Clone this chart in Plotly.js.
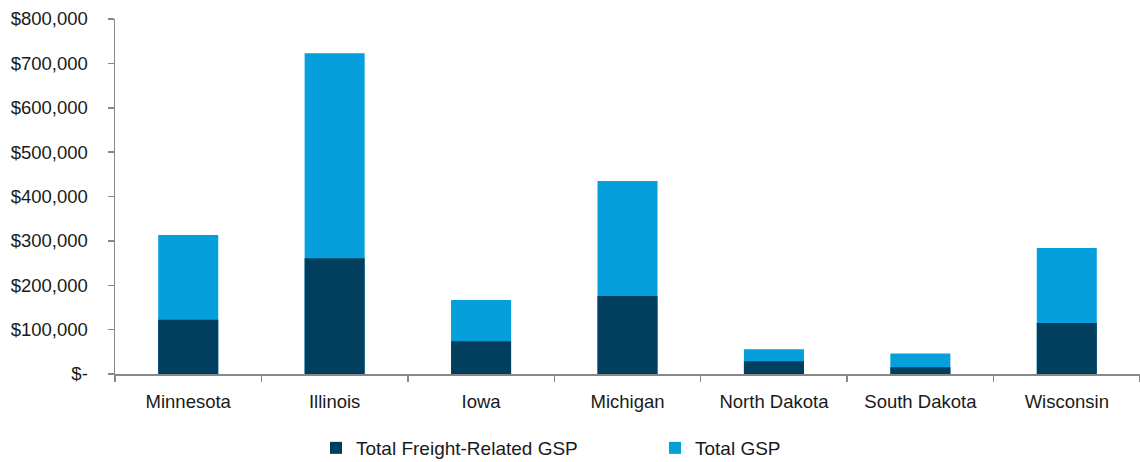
<!DOCTYPE html>
<html><head><meta charset="utf-8">
<script src="https://cdn.plot.ly/plotly-3.0.1.min.js"></script>
<style>body{margin:0;background:#fff}#c{width:1140px;height:462px}</style>
</head><body><div id="c"></div>
<script>
const states = ["Minnesota","Illinois","Iowa","Michigan","North Dakota","South Dakota","Wisconsin"];
const freightGSP = [122000, 261000, 74000, 176000, 29000, 15000, 115000];
const totalGSP = [313000, 723000, 167000, 435000, 56000, 46000, 284000];
const yTickVals = [0,100000,200000,300000,400000,500000,600000,700000,800000];
const yTickText = ["$-","$100,000","$200,000","$300,000","$400,000","$500,000","$600,000","$700,000","$800,000"];

const fam = "Liberation Sans, Arial, sans-serif";
const traces = [
  {type:"bar", name:"Total GSP", x:states, y:totalGSP, marker:{color:"#05a0db"}, width:0.41, hoverinfo:"x+y"},
  {type:"bar", name:"Total Freight-Related GSP", x:states, y:freightGSP, marker:{color:"#023f5e"}, width:0.41, hoverinfo:"x+y"}
];
const layout = {
  width:1140, height:462,
  margin:{l:115, r:0, t:19, b:88, autoexpand:false},
  barmode:"overlay",
  paper_bgcolor:"#fff", plot_bgcolor:"#fff",
  font: {family:fam, size:18.5, color:"#1a1a1a"},
  showlegend:true,
  legend:{orientation:"h", xref:"container", yref:"container", x:(358-42)/1140, xanchor:"left",
          y:14/462, yanchor:"middle", traceorder:"reversed",
          font:{family:fam, size:19, color:"#1a1a1a"}, entrywidth:294},
  xaxis:{showline:true, linecolor:"#888888", linewidth:1.5, ticks:"outside", tickson:"boundaries",
         ticklen:6, tickcolor:"#888888", tickwidth:1.5, showgrid:false, zeroline:false, fixedrange:true,
         ticklabelstandoff:10},
  yaxis:{range:[0,800000], tickvals:yTickVals, ticktext:yTickText, showline:true, linecolor:"#888888", linewidth:1.5,
         ticks:"outside", ticklen:6, tickcolor:"#888888", tickwidth:1.5, showgrid:false, zeroline:false, fixedrange:true,
         ticklabelstandoff:16}
};
Plotly.newPlot("c", traces, layout, {displayModeBar:false, staticPlot:true});
</script></body></html>
